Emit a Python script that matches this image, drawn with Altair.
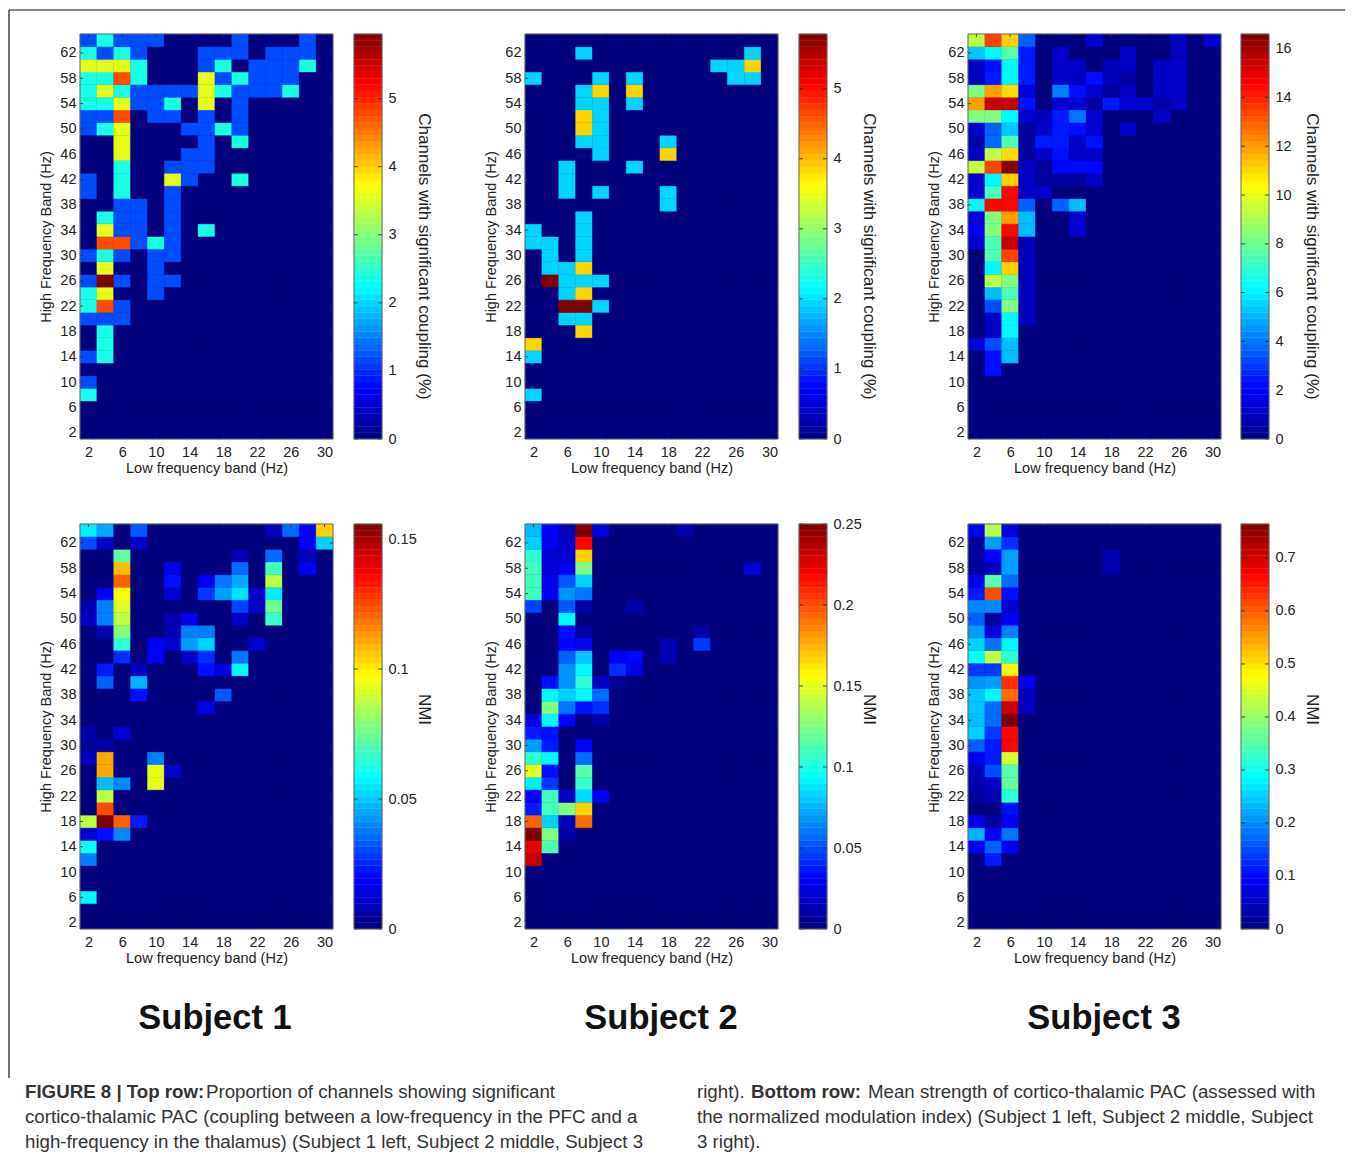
import altair as alt
import pandas as pd

FONT = "Liberation Sans"
LOW = list(range(2, 32, 2))
HIGH = list(range(2, 66, 2))
X_TICKS = [2, 6, 10, 14, 18, 22, 26, 30]
Y_TICKS = [2, 6, 10, 14, 18, 22, 26, 30, 34, 38, 42, 46, 50, 54, 58, 62]
JET_POS = [0, 0.125, 0.375, 0.625, 0.875, 1]
JET_COL = ["#00007F", "#0000FF", "#00FFFF", "#FFFF00", "#FF0000", "#7F0000"]

# Top row, subject 1: cell values in equal steps of the colour bar (0-5 steps)
S1_TOP = {64:{2:1,4:2,6:1,8:1,10:1,20:1,28:1},62:{2:2,4:1,6:2,8:1,16:1,18:1,20:1,24:1,26:1,28:1},
60:{2:3,4:3,6:3,8:2,16:1,18:2,22:1,24:1,26:1,28:2},58:{2:2,4:2,6:4,8:2,16:3,18:1,20:2,22:1,24:1,26:1},
56:{2:2,4:3,6:2,8:1,10:1,12:1,14:1,16:3,18:2,20:1,22:1,24:1,26:2},54:{2:2,4:2,6:3,8:1,10:1,12:2,16:3,20:1},
52:{2:1,4:1,6:4,10:1,12:1,16:1,20:1},50:{2:1,4:2,6:3,14:1,16:1,18:2,20:1},48:{6:3,16:1,20:2},
46:{6:3,14:1,16:1},44:{6:2,12:1,14:1,16:1},42:{2:1,6:2,12:3,14:1,20:2},40:{2:1,6:2,12:1},38:{6:1,8:1,12:1},
36:{4:2,6:1,8:1,12:1},34:{4:3,6:1,8:1,12:1,16:2},32:{4:4,6:4,8:1,10:2,12:1},30:{2:1,4:2,6:1,10:1,12:1},
28:{4:3,10:1},26:{2:1,4:5,6:1,10:1,12:1},24:{2:2,4:3,10:1},22:{2:2,4:4,6:1},20:{2:1,4:1,6:1},18:{4:2},16:{4:2},
14:{2:1,4:2},10:{2:1},8:{2:2}}
# Top row, subject 2: 0-3 steps
S2_TOP = {62:{8:1,28:1},60:{24:1,26:1,28:2},58:{2:1,10:1,14:1,26:1,28:1},56:{8:1,10:2,14:2},54:{8:1,10:1,14:1},
52:{8:2,10:1},50:{8:2,10:1},48:{8:1,10:1,18:1},46:{10:1,18:2},44:{6:1,14:1},42:{6:1},40:{6:1,10:1,18:1},38:{18:1},
36:{8:1},34:{2:1,8:1},32:{2:1,4:1,8:1},30:{4:1,8:1},28:{4:1,6:1,8:2},26:{4:3,6:1,8:1,10:1},24:{6:1,8:2},
22:{6:3,8:3,10:1},20:{6:1,8:1},18:{8:2},16:{2:2},14:{2:1},8:{2:1}}
# The rest: percent of the colour bar's full height
S3_TOP = {64:{2:56,4:81,6:67,8:22,16:8,26:6,30:8},62:{2:32,4:37,6:46,8:15,12:7,20:7,26:6},
60:{2:7,4:14,6:37,8:15,12:7,14:7,18:6,20:7,24:7,26:7},58:{2:7,4:15,6:37,8:15,12:7,14:7,16:14,18:6,20:3,24:7,26:7},
56:{2:50,4:72,6:66,8:9,12:25,14:14,16:8,18:3,20:7,24:7,26:7},54:{2:72,4:93,6:93,8:14,12:8,14:8,16:3,18:15,20:8,22:8,24:4,26:7},
52:{2:50,4:50,6:37,8:8,10:6,12:15,14:24,16:8,24:7},50:{2:8,4:22,6:32,8:3,10:7,12:15,14:14,16:8,20:8},
48:{2:4,4:23,6:45,8:3,10:15,12:15,14:7,16:14},46:{2:8,4:56,6:66,8:3,10:7,12:14,14:7,16:7},
44:{2:57,4:81,6:99,8:7,10:3,12:13,14:13,16:13},42:{2:8,4:37,6:67,8:7,10:3,12:3,14:3,16:7},40:{2:8,4:44,6:87,8:7,10:7},
38:{2:37,4:87,6:87,8:22,12:22,14:31},36:{2:8,4:50,6:72,8:31,14:8},34:{2:12,4:50,6:87,8:31,14:8},32:{2:8,4:45,6:93,8:6},
30:{4:45,6:81,8:6},28:{4:37,6:67,8:6},26:{4:56,6:50,8:6},24:{4:31,6:45,8:6},22:{4:20,6:50,8:6},20:{4:7,6:37,8:6},
18:{4:7,6:37},16:{2:8,4:20,6:31},14:{4:14,6:31},12:{4:14}}
S1_BOT = {64:{2:36,4:29,8:21,24:6,26:23,28:12,30:67},62:{2:20,4:7,8:7,28:12,30:33},60:{6:47,20:5,24:23,28:6},
58:{6:69,12:10,20:23,24:44,28:11},56:{6:78,12:14,16:11,18:24,20:29,24:56},54:{4:12,6:62,12:8,16:18,18:28,20:35,22:7,24:36},
52:{2:5,4:25,6:59,20:19,22:7,24:48},50:{2:7,4:25,6:56,12:5,14:10,20:7,24:43},48:{4:5,6:50,12:5,14:25,16:25},
46:{6:42,10:11,12:8,14:28,16:33,22:8},44:{6:17,10:11,14:7,16:17,20:24},42:{4:15,8:6,16:14,18:9,20:37},40:{4:22,8:30},
38:{8:14,18:21},36:{16:10},32:{2:4,6:8},30:{2:3,4:4},28:{2:6,4:71,10:25},26:{4:71,10:60,12:8},24:{4:31,6:26,10:60},
22:{4:56},20:{4:80},18:{2:56,4:100,6:78,8:15},16:{2:9,4:14,6:26},14:{2:39},12:{2:25},6:{2:37}}
S2_BOT = {64:{2:31,4:12,6:6,8:100,10:9,20:4},62:{2:33,4:11,6:7,8:87},60:{2:42,4:8,6:8,8:67},58:{2:44,4:8,6:11,8:50,28:8},
56:{2:44,4:11,6:21,8:33},54:{2:44,4:11,6:27,8:24},52:{2:19,6:21,8:4,14:4},50:{6:37},48:{6:14,8:3,22:3},
46:{6:13,8:11,18:5,22:18},44:{6:22,8:32,12:12,14:13,18:5},42:{6:27,8:37,12:17,14:10},40:{4:14,6:27,8:42,10:7,12:2},
38:{4:37,6:33,8:37,10:23},36:{4:50,6:24,8:14,10:17},34:{2:10,4:37,6:12,10:4},32:{2:15,4:14},30:{2:28,4:15,8:12},
28:{2:42,4:37,8:23},26:{2:60,4:14,8:46},24:{2:36,4:18,8:43},22:{2:12,4:44,6:7,8:34,10:11},20:{2:15,4:44,6:50,8:67},
18:{2:78,4:33,6:6,8:77},16:{2:100,4:50,6:4},14:{2:90,4:45},12:{2:93}}
S3_BOT = {64:{2:11,4:55,6:9},62:{2:3,4:28,6:17},60:{2:3,4:12,6:28,18:5},58:{2:3,4:6,6:28,18:5},56:{2:11,4:46,6:23},
54:{2:15,4:80,6:14},52:{2:26,4:26,6:8},50:{2:22,4:3,6:11},48:{2:28,4:9,6:25},46:{2:33,4:24,6:37},44:{2:38,4:56,6:42},
42:{2:18,4:18,6:63},40:{2:27,4:28,6:83,8:11},38:{2:32,4:37,6:77,8:6},36:{2:32,4:23,6:93,8:6},34:{2:31,4:23,6:100},
32:{2:33,4:18,6:87},30:{2:22,4:15,6:87},28:{2:11,4:15,6:58},26:{2:6,4:20,6:46},24:{2:4,4:7,6:47},22:{2:3,4:5,6:42},
20:{6:14},18:{2:11,4:3,6:11},16:{2:30,4:11,6:24},14:{2:12,4:22,6:11},12:{4:15}}

W, H, CW = 253, 405, 28
one = pd.DataFrame({"a": [0]})


def cells(table, unit):
    return pd.DataFrame([
        {"low": l, "l0": l - 1, "l1": l + 1, "high": h, "h0": h - 1, "h1": h + 1,
         "v": table.get(h, {}).get(l, 0) * unit}
        for h in HIGH for l in LOW
    ])


def cscale(vmax):
    return alt.Scale(domain=[p * vmax for p in JET_POS], range=JET_COL, clamp=True, interpolate="rgb")


def box(x0, x1, fill=None):
    mark = alt.Chart(one).mark_rect(fill=fill, stroke=None) if fill else \
        alt.Chart(one).mark_rect(fillOpacity=0, stroke="#666", strokeWidth=1)
    return mark.encode(x=alt.value(x0), x2=alt.value(x1), y=alt.value(0), y2=alt.value(H))


def panel(table, unit, vmax, ticks, title, title_y, gap, total, title_x=41):
    """Heat map and its colour bar in one layered view, each with its own scales."""
    xs = alt.Scale(domain=[1, 31], range=[0, W], nice=False, zero=False)
    ys = alt.Scale(domain=[1, 65], nice=False, zero=False)
    rect = alt.Chart(cells(table, unit)).mark_rect(strokeWidth=0.4).encode(
        x=alt.X("l0:Q", scale=xs, axis=alt.Axis(values=X_TICKS, title="Low frequency band (Hz)", tickSize=0,
                                                domain=False, grid=False, labelPadding=6, titlePadding=3)),
        x2="l1:Q",
        y=alt.Y("h0:Q", scale=ys, axis=alt.Axis(values=Y_TICKS, title="High Frequency Band (Hz)", tickSize=0,
                                                domain=False, grid=False, labelPadding=4, titlePadding=6)),
        y2="h1:Q",
        color=alt.Color("v:Q", scale=cscale(vmax), legend=None),
        stroke=alt.Color("v:Q", scale=cscale(vmax), legend=None),
    )
    layers = [box(0, W, "#00007F"), rect]
    xt = pd.DataFrame({"t": X_TICKS})
    yt = pd.DataFrame({"t": Y_TICKS})
    for a, b in [(0, 3), (H - 3, H)]:
        layers.append(alt.Chart(xt).mark_rule(color="#222", strokeWidth=0.8).encode(
            x=alt.X("t:Q", scale=xs, axis=None), y=alt.value(a), y2=alt.value(b)))
    for a, b in [(0, 3), (W - 3, W)]:
        layers.append(alt.Chart(yt).mark_rule(color="#222", strokeWidth=0.8).encode(
            y=alt.Y("t:Q", scale=ys, axis=None), x=alt.value(a), x2=alt.value(b)))
    layers.append(box(0, W))

    # colour bar
    b0 = W + gap
    b1 = b0 + CW
    ramp = pd.DataFrame({"i": range(64)})
    ramp["y0"] = ramp.i / 64 * vmax
    ramp["y1"] = (ramp.i + 1) / 64 * vmax
    ramp["c"] = (ramp.i + 0.5) / 64 * vmax
    cs = alt.Scale(domain=[0, vmax], nice=False, zero=False)
    layers.append(alt.Chart(ramp).mark_rect(strokeWidth=0.4).encode(
        x=alt.value(b0), x2=alt.value(b1),
        y=alt.Y("y0:Q", scale=cs, axis=alt.Axis(orient="right", values=ticks, format="~g", tickSize=0, domain=False,
                                                grid=False, labelPadding=6, offset=b1 - total, title=title,
                                                titleAngle=90, titleX=title_x, titleY=title_y, titleAlign="center",
                                                titleBaseline="middle", titleFontSize=17)),
        y2="y1:Q",
        color=alt.Color("c:Q", scale=cscale(vmax), legend=None),
        stroke=alt.Color("c:Q", scale=cscale(vmax), legend=None),
    ))
    t = pd.DataFrame({"t": ticks})
    for a, b in [(b0, b0 + 4), (b1 - 4, b1)]:
        layers.append(alt.Chart(t).mark_rule(color="#222", strokeWidth=0.8).encode(
            y=alt.Y("t:Q", scale=cs, axis=None), x=alt.value(a), x2=alt.value(b)))
    layers.append(box(b0, b1))
    return alt.layer(*layers).resolve_scale(x="independent", y="independent", color="independent",
                                            stroke="independent").properties(width=total, height=H)


COUPLING = "Channels with significant coupling (%)"
MAX_TOP = [5.95, 5.78, 16.6]
MAX_BOT = [0.1558, 0.25, 0.764]

panels = [
    panel(S1_TOP, MAX_TOP[0] / 5, MAX_TOP[0], [0, 1, 2, 3, 4, 5], COUPLING, 222, 21, 304),
    panel(S2_TOP, MAX_TOP[1] / 3, MAX_TOP[1], [0, 1, 2, 3, 4, 5], COUPLING, 222, 21, 302),
    panel(S3_TOP, MAX_TOP[2] / 100, MAX_TOP[2], [0, 2, 4, 6, 8, 10, 12, 14, 16], COUPLING, 222, 20, 301, 42),
    panel(S1_BOT, MAX_BOT[0] / 100, MAX_BOT[0], [0, 0.05, 0.1, 0.15], "NMI", 185, 21, 304),
    panel(S2_BOT, MAX_BOT[1] / 100, MAX_BOT[1], [0, 0.05, 0.1, 0.15, 0.2, 0.25], "NMI", 185, 21, 302),
    panel(S3_BOT, MAX_BOT[2] / 100, MAX_BOT[2], [0, 0.1, 0.2, 0.3, 0.4, 0.5, 0.6, 0.7], "NMI", 185, 20, 301, 42),
]

# Page position of the third row's plot area
X0, Y0 = 80, 1014
SUBJECTS = [("Subject 1", 215), ("Subject 2", 661), ("Subject 3", 1104)]
CAPTION = [
    ("FIGURE 8 | Top row:", 25, 1092, "bold"),
    ("Proportion of channels showing significant", 206, 1092, "normal"),
    ("cortico-thalamic PAC (coupling between a low-frequency in the PFC and a", 25, 1117, "normal"),
    ("high-frequency in the thalamus) (Subject 1 left, Subject 2 middle, Subject 3", 25, 1142, "normal"),
    ("right).", 697, 1092, "normal"),
    ("Bottom row:", 751, 1092, "bold"),
    ("Mean strength of cortico-thalamic PAC (assessed with", 868, 1092, "normal"),
    ("the normalized modulation index) (Subject 1 left, Subject 2 middle, Subject", 697, 1117, "normal"),
    ("3 right).", 697, 1142, "normal"),
]
marks = []
for s, cx in SUBJECTS:
    marks.append(alt.Chart(one).mark_text(font=FONT, fontSize=34.5, fontWeight="bold", align="center",
                                          baseline="middle", color="#111").encode(
        text=alt.value(s), x=alt.value(cx - X0), y=alt.value(1019 - Y0)))
for s, px, py, w in CAPTION:
    marks.append(alt.Chart(one).mark_text(font=FONT, fontSize=18.7, fontWeight=w, align="left",
                                          baseline="middle", color="#333").encode(
        text=alt.value(s), x=alt.value(px - X0), y=alt.value(py - Y0)))
# figure frame
marks.append(alt.Chart(one).mark_rule(color="#111", strokeWidth=1.2).encode(
    x=alt.value(9 - X0), x2=alt.value(1345 - X0), y=alt.value(10 - Y0)))
marks.append(alt.Chart(one).mark_rule(color="#111", strokeWidth=1.2).encode(
    x=alt.value(9 - X0), y=alt.value(10 - Y0), y2=alt.value(1078 - Y0)))
text = alt.layer(*marks).properties(width=304, height=130)

chart = alt.concat(*panels, text, columns=3, spacing={"row": 85, "column": 141}, bounds="flush").properties(
    padding={"left": 0, "top": 1, "right": 0, "bottom": 0}
).configure_view(stroke=None).configure_axis(
    labelFont=FONT, titleFont=FONT, labelFontSize=14.5, titleFontSize=14.5, labelColor="#222", titleColor="#222",
    titleFontWeight="normal"
)

chart.save("out.html", embed_options={"renderer": "svg", "actions": False})
